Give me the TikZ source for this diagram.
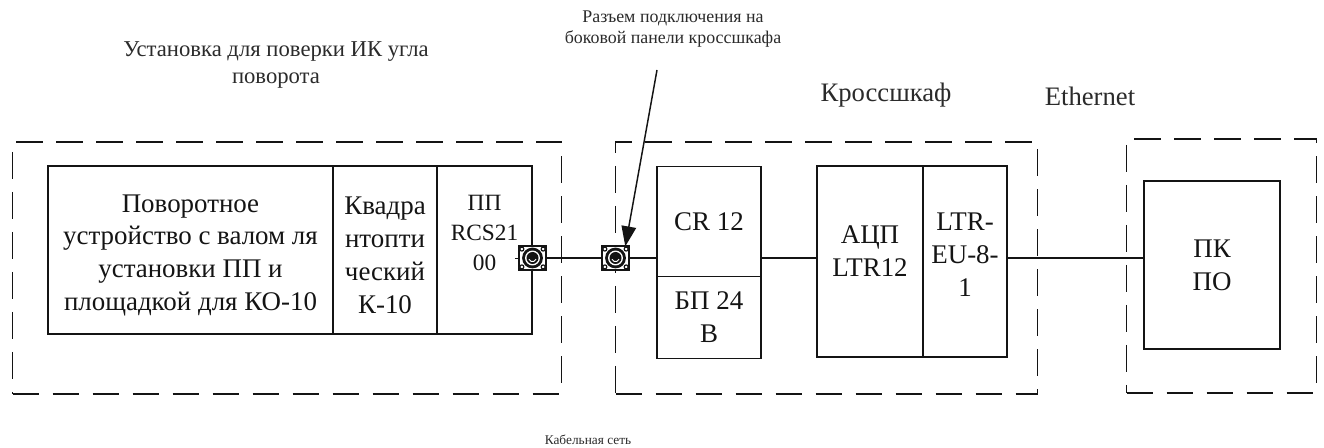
\documentclass[tikz,border=0pt]{standalone}
\usepackage{fontspec}
\setmainfont{Liberation Serif}
\usepackage{tikz}
\usetikzlibrary{arrows.meta,positioning,calc}
\definecolor{Ink}{HTML}{141414}
\definecolor{Label}{HTML}{2B2B2B}
\newcommand{\socketicon}[1]{%
  \fill[Ink] (#1) circle[radius=7.8pt];
  \fill[white] (#1) circle[radius=5.6pt];
  \fill[Ink] (#1) circle[radius=4.5pt];
  \draw[white,line width=0.7pt] ($(#1)+(-2.6pt,-0.9pt)$) arc[start angle=200,end angle=340,radius=2.8pt];
  \foreach \sx in {-1,1} \foreach \sy in {-1,1}
    \draw[Ink,line width=0.9pt,fill=white] ($(#1)+(\sx*8pt,\sy*6.7pt)$) circle[radius=1.5pt];
}
\newcommand{\pushup}[1]{\\[#1]\mbox{}}
\newcommand{\pushdown}[1]{\mbox{}\\[#1]}
\begin{document}
\begin{tikzpicture}[
  x=0.75pt,y=-0.75pt,
  zone/.style={draw=Ink,line width=1.3pt,dash pattern=on 20pt off 10pt,minimum height=189pt,inner sep=0pt,outer sep=0pt},
  block/.style={draw=Ink,line width=1.3pt,fill=white,align=center,inner sep=0pt,outer sep=0pt,text=Ink,font=\fontsize{20.2}{24.6}\selectfont},
  socket/.style={draw=Ink,line width=1.6pt,fill=white,minimum width=20.5pt,minimum height=17.5pt,inner sep=0pt,outer sep=0pt},
  link/.style={line width=1.3pt,draw=Ink},
  pointer/.style={-{Triangle[length=15pt,width=11pt]},line width=1.1pt,draw=Ink},
  caption/.style={align=center,text=Label}
]
\useasboundingbox (0,0) rectangle (1324,448);
\fill[white] (0,0) rectangle (1324,448);
% dashed groups
\node[zone,minimum width=411.75pt] (rig) at (287,268) {};
\node[zone,minimum width=316.5pt] (cabinet) at (826.5,268) {};
\node[zone,minimum width=142.5pt,minimum height=190.5pt] (station) at (1221.5,266) {};
% rotary rig
\node[block,minimum width=213.75pt,minimum height=126pt] (drive) at (190.5,250) {\pushdown{-3.3pt}Поворотное\\устройство с валом ля\\установки ПП и\\площадкой для КО-10};
\node[block,right=0pt of drive,minimum width=78pt,minimum height=126pt] (encoder) {\pushdown{-3.3pt}Квадра\\нтопти\\ческий\\К-10};
\node[block,right=0pt of encoder,minimum width=71.25pt,minimum height=126pt,font=\fontsize{17.5}{22.5}\selectfont] (sensor) {ПП\\RCS21\\00\pushup{2.7pt}};
% cabinet
\node[block,minimum width=78pt,minimum height=82.5pt] (cr) at (709,221.5) {CR 12};
\node[block,below=0pt of cr,minimum width=78pt,minimum height=61.5pt] (psu) {БП 24\\В};
\node[block,minimum width=79.5pt,minimum height=143.25pt] (adc) at (870,261.5) {АЦП\\LTR12\pushup{-8.8pt}};
\node[block,right=0pt of adc,minimum width=63pt,minimum height=143.25pt] (eu) {LTR-\\EU-8-\\1\pushup{-14pt}};
% computer
\node[block,minimum width=102pt,minimum height=126pt] (pc) at (1212,265) {ПК\\ПО};
% plugs
\node[socket] (plugA) at (532.5,258) {};
\node[socket] (plugB) at (615.5,258) {};
\socketicon{plugA}
\socketicon{plugB}
% links
\coordinate[left=3pt of plugA.west] (stub);
\draw[link,line width=0.7pt] (stub) -- (plugA.west);
\draw[link] (plugA) -- (plugB);
\draw[link] (plugB) -- (plugB -| cr.west);
\draw[link] (plugB -| cr.east) -- (plugB -| adc.west);
\draw[link] (plugB -| eu.east) -- (plugB -| pc.west);
% captions
\node[caption,font=\fontsize{17}{20}\selectfont] (title) at (276,65) {Установка для поверки ИК угла\\поворота};
\node[caption,font=\fontsize{13.4}{16}\selectfont] (plugnote) at (673,29) {Разъем подключения на\\боковой панели кроссшкафа};
\node[caption,font=\fontsize{20}{24}\selectfont] (cabinetname) at (886,95) {Кроссшкаф};
\node[caption,font=\fontsize{20}{24}\selectfont] (ethernet) at (1090,96) {Ethernet};
\node[caption,font=\fontsize{10}{12}\selectfont] (cablenote) at (588,440) {Кабельная сеть};
\coordinate (pointerstart) at (657,70);
\draw[pointer] (pointerstart) -- (plugB.50);
\end{tikzpicture}
\end{document}
